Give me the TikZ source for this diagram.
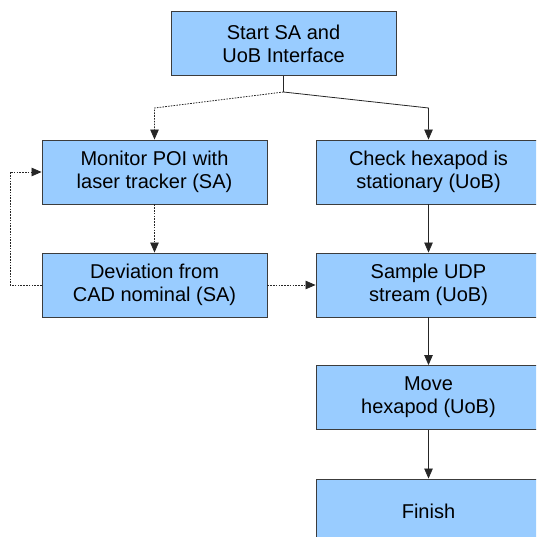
\documentclass[tikz,border=0pt]{standalone}
\usepackage{fontspec}
\setmainfont{Liberation Sans}
\usetikzlibrary{arrows.meta}
\definecolor{boxfill}{HTML}{99CCFF}
\definecolor{boxline}{HTML}{3C3C3C}
\tikzset{
  flowbox/.style={draw=boxline, line width=0.9pt, fill=boxfill, minimum width=225pt, minimum height=64pt, inner sep=0pt, align=center, font=\fontsize{20}{23}\selectfont, text=black},
  conn/.style={draw=black!85, line width=0.8pt, -{Triangle[length=10pt,width=8.5pt]}},
  plain/.style={draw=black!85, line width=0.8pt},
  dotconn/.style={conn, dash pattern=on 1.6pt off 1.2pt},
  dotplain/.style={plain, dash pattern=on 1.6pt off 1.2pt}
}
\begin{document}
\begin{tikzpicture}[x=1pt,y=1pt]
\useasboundingbox (0,0) rectangle (536,-537);
\clip (0,0) rectangle (536,-537);
\node[flowbox] (start) at (283.5,-43.5) {Start SA and\\UoB Interface};
\node[flowbox] (monitor) at (154.5,-172) {Monitor POI with\\laser tracker (SA)};
\node[flowbox] (deviation) at (154.5,-285) {Deviation from\\CAD nominal (SA)};
\node[flowbox] (check) at (428.5,-172) {Check hexapod is\\stationary (UoB)};
\node[flowbox] (sample) at (428.5,-285) {Sample UDP\\stream (UoB)};
\node[flowbox] (move) at (428.5,-397.5) {Move\\hexapod (UoB)};
\node[flowbox] (finish) at (428.5,-511) {Finish};
\coordinate (j) at (283.5,-92);
\coordinate (jl) at (154.5,-108);
\coordinate (jr) at (428.5,-108);
\coordinate (fb1) at (10,-285);
\coordinate (fb2) at (10,-172);
\draw[plain] (start.south) -- (j);
\draw[dotconn] (j) -- (jl) -- (monitor.north);
\draw[conn] (j) -- (jr) -- (check.north);
\draw[dotconn] (monitor.south) -- (deviation.north);
\draw[dotconn] (deviation.west) -- (fb1) -- (fb2) -- (monitor.west);
\draw[dotconn] (deviation.east) -- (sample.west);
\draw[conn] (check.south) -- (sample.north);
\draw[conn] (sample.south) -- (move.north);
\draw[conn] (move.south) -- (finish.north);
\end{tikzpicture}
\end{document}
